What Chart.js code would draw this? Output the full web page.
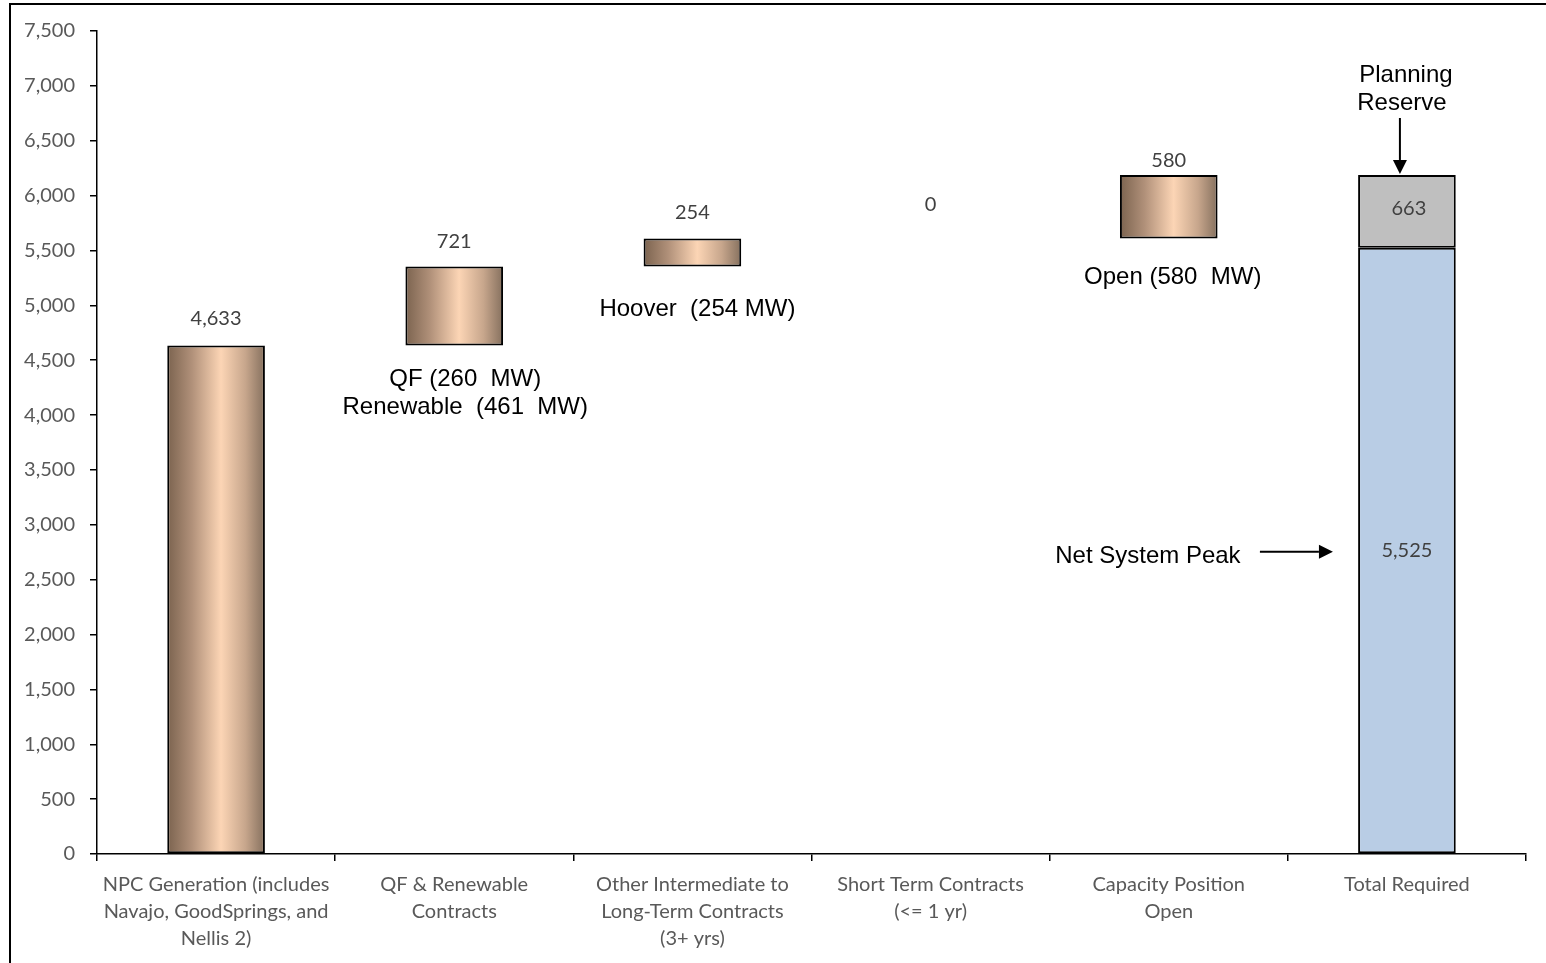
<!DOCTYPE html>
<html>
<head>
<meta charset="utf-8">
<script src="https://cdn.jsdelivr.net/npm/chart.js@4.4.0/dist/chart.umd.min.js"></script>
<style>
    html, body { margin: 0; padding: 0; background: #fff; overflow: hidden; }
</style>
</head>
<body>
<canvas id="boxChartCapacidade" width="1546" height="963"></canvas>
<script>
// categorias e valores (MW)
const categorias = [
    ['NPC Generation (includes', 'Navajo, GoodSprings, and', 'Nellis 2)'],
    ['QF & Renewable', 'Contracts'],
    ['Other Intermediate to', 'Long-Term Contracts', '(3+ yrs)'],
    ['Short Term Contracts', '(<= 1 yr)'],
    ['Capacity Position', 'Open'],
    ['Total Required']
];
const incrementos = [4633, 721, 254, 0, 580];
const picoLiquido = [5525];
const reservaPlanejamento = [663];
const yMin = 0;
const yMax = 7500;
const yPasso = 500;

// textos de anotacao
const notasQF = ['QF (260  MW)', 'Renewable  (461  MW)'];
const notaHoover = 'Hoover  (254 MW)';
const notaOpen = 'Open (580  MW)';
const notaReserva = ['Planning', 'Reserve'];
const notaPico = 'Net System Peak';

// deslocamento dos rotulos acima das barras (px)
const deslocRotulos = [27, 25, 26, 34, 14];

const barPct = 0.41;
const fonteNum = 'Lato, "Open Sans", sans-serif';
const fonteNota = '"Liberation Sans", Arial, sans-serif';

// barras flutuantes da cascata
let acumulado = 0;
const cascata = incrementos.map(v => {
    const ini = acumulado;
    acumulado += v;
    return [ini, acumulado];
});
cascata.push(null);
const dadosPico = categorias.map((c, i) => i === categorias.length - 1 ? [0, picoLiquido[0]] : null);
const dadosReserva = categorias.map((c, i) => i === categorias.length - 1 ? [picoLiquido[0], picoLiquido[0] + reservaPlanejamento[0]] : null);

function formatar(v) {
    return v.toLocaleString('en-US');
}

function gradienteCobre(context) {
    if (context.type !== 'data') return '#c9a88c';
    const chart = context.chart;
    const x = chart.scales.x;
    if (!x || !chart.chartArea) return '#c9a88c';
    const cx = x.getPixelForValue(context.dataIndex);
    const meia = (x.width / categorias.length) * barPct / 2;
    if (!isFinite(cx)) return '#c9a88c';
    const g = chart.ctx.createLinearGradient(cx - meia, 0, cx + meia, 0);
    g.addColorStop(0, '#7b634f');
    g.addColorStop(0.25, '#b09079');
    g.addColorStop(0.55, '#fcd5b5');
    g.addColorStop(0.8, '#c7a68c');
    g.addColorStop(1, '#85705e');
    return g;
}

const moldura = {
    id: 'moldura',
    beforeDraw(chart) {
        const ctx = chart.ctx;
        ctx.save();
        ctx.fillStyle = '#fff';
        ctx.fillRect(0, 0, chart.width, chart.height);
        ctx.strokeStyle = '#000';
        ctx.lineWidth = 2;
        ctx.beginPath();
        ctx.moveTo(10, chart.height);
        ctx.lineTo(10, 4);
        ctx.lineTo(chart.width, 4);
        ctx.stroke();
        ctx.restore();
    }
};

function seta(ctx, x1, y1, x2, y2) {
    const ang = Math.atan2(y2 - y1, x2 - x1);
    const tam = 14, larg = 7;
    const bx = x2 - tam * Math.cos(ang), by = y2 - tam * Math.sin(ang);
    ctx.beginPath();
    ctx.moveTo(x1, y1);
    ctx.lineTo(bx, by);
    ctx.stroke();
    ctx.beginPath();
    ctx.moveTo(x2, y2);
    ctx.lineTo(bx - larg * Math.sin(ang), by + larg * Math.cos(ang));
    ctx.lineTo(bx + larg * Math.sin(ang), by - larg * Math.cos(ang));
    ctx.closePath();
    ctx.fill();
}

const rotulos = {
    id: 'rotulos',
    afterDatasetsDraw(chart) {
        const ctx = chart.ctx;
        const x = chart.scales.x;
        const y = chart.scales.y;
        ctx.save();
        ctx.textAlign = 'center';
        ctx.textBaseline = 'middle';
        ctx.font = '20px ' + fonteNum;
        ctx.fillStyle = '#404040';
        incrementos.forEach((v, i) => {
            const topo = y.getPixelForValue(cascata[i][1]);
            ctx.fillText(formatar(v), x.getPixelForValue(i), topo - deslocRotulos[i]);
        });
        const ult = categorias.length - 1;
        const cxT = x.getPixelForValue(ult);
        ctx.fillText(formatar(picoLiquido[0]), cxT, y.getPixelForValue(picoLiquido[0] / 2));
        ctx.fillText(formatar(reservaPlanejamento[0]), cxT + 2, y.getPixelForValue(picoLiquido[0] + reservaPlanejamento[0] / 2) - 3);

        // anotacoes
        ctx.font = '24px ' + fonteNota;
        ctx.fillStyle = '#000';
        ctx.strokeStyle = '#000';
        ctx.lineWidth = 2;
        const baseQF = y.getPixelForValue(cascata[1][0]);
        ctx.fillText(notasQF[0], x.getPixelForValue(1) + 11, baseQF + 34);
        ctx.fillText(notasQF[1], x.getPixelForValue(1) + 11, baseQF + 62);
        ctx.fillText(notaHoover, x.getPixelForValue(2) + 5, y.getPixelForValue(cascata[2][0]) + 43);
        ctx.fillText(notaOpen, x.getPixelForValue(4) + 4, y.getPixelForValue(cascata[4][0]) + 39);

        const topoT = y.getPixelForValue(picoLiquido[0] + reservaPlanejamento[0]);
        ctx.fillText(notaReserva[0], cxT - 1, topoT - 100);
        ctx.fillText(notaReserva[1], cxT - 5, topoT - 72);
        seta(ctx, cxT - 7, topoT - 57, cxT - 7, topoT - 1);

        const meioPico = y.getPixelForValue(picoLiquido[0] / 2);
        ctx.fillText(notaPico, cxT - 259, meioPico + 6);
        seta(ctx, cxT - 147, meioPico + 1, cxT - 74, meioPico + 1);
        ctx.restore();
    }
};

const ctxCanvas = document.getElementById('boxChartCapacidade');
const grafico = new Chart(ctxCanvas, {
    type: 'bar',
    data: {
        labels: categorias,
        datasets: [
            {
                label: 'Cascata',
                data: cascata,
                backgroundColor: gradienteCobre,
                borderColor: '#000',
                borderWidth: (c) => (c.raw && c.raw[1] - c.raw[0] === 0) ? 0 : 2,
                borderSkipped: false,
                grouped: false,
                barPercentage: barPct,
                categoryPercentage: 1
            },
            {
                label: 'Net System Peak',
                data: dadosPico,
                backgroundColor: '#b9cde5',
                borderColor: '#000',
                borderWidth: 2,
                borderSkipped: false,
                grouped: false,
                barPercentage: barPct,
                categoryPercentage: 1
            },
            {
                label: 'Planning Reserve',
                data: dadosReserva,
                backgroundColor: '#bfbfbf',
                borderColor: '#000',
                borderWidth: 2,
                borderSkipped: false,
                grouped: false,
                barPercentage: barPct,
                categoryPercentage: 1
            }
        ]
    },
    options: {
        responsive: false,
        animation: false,
        devicePixelRatio: 1,
        layout: {
            padding: { top: 31, right: 20, left: 0, bottom: 0 }
        },
        plugins: {
            legend: { display: false },
            tooltip: { enabled: false }
        },
        scales: {
            x: {
                grid: {
                    offset: true,
                    drawOnChartArea: false,
                    drawTicks: true,
                    tickLength: 7,
                    color: '#000',
                    lineWidth: 1.5
                },
                border: { display: true, color: '#000', width: 1.5 },
                ticks: {
                    color: '#595959',
                    font: { family: fonteNum, size: 20, lineHeight: 1.35 },
                    padding: 10,
                    maxRotation: 0,
                    autoSkip: false
                },
                afterFit: (scale) => { scale.height = 109; }
            },
            y: {
                min: yMin,
                max: yMax,
                grid: {
                    drawOnChartArea: false,
                    drawTicks: true,
                    tickLength: 7,
                    color: '#000',
                    lineWidth: 1.5
                },
                border: { display: true, color: '#000', width: 1.5 },
                ticks: {
                    stepSize: yPasso,
                    color: '#595959',
                    font: { family: fonteNum, size: 20 },
                    padding: 15,
                    callback: (v) => formatar(v)
                },
                afterFit: (scale) => { scale.width = 97; }
            }
        }
    },
    plugins: [moldura, rotulos]
});
</script>
</body>
</html>
